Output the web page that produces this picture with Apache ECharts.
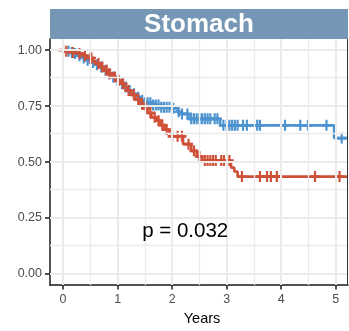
<!DOCTYPE html>
<html><head><meta charset="utf-8">
<script src="https://cdn.jsdelivr.net/npm/echarts@6/dist/echarts.min.js"></script>
<style>html,body{margin:0;padding:0;background:#fff}#c{width:349px;height:331px}</style>
</head><body><div id="c"></div>
<script>
const stripTitle = 'Stomach';
const xAxisTitle = 'Years';
const pValueText = 'p = 0.032';
const pValuePos = [2.24, 0.19];
const xTicks = [0, 1, 2, 3, 4, 5];
const yTicks = [0, 0.25, 0.5, 0.75, 1];
const xGridMajor = [0, 1, 2, 3, 4, 5];
const xGridMinor = [0.5, 1.5, 2.5, 3.5, 4.5];
const yGridMajor = [0, 0.25, 0.5, 0.75, 1];
const yGridMinor = [0.125, 0.375, 0.625, 0.875];
const xRange = [-0.24, 5.225];
const yRange = [-0.05, 1.05];

// Blue group: event times and survival after each event
const blueTimes = [0, 0.05, 0.12, 0.2, 0.28, 0.35, 0.42, 0.5, 0.58, 0.65, 0.72, 0.8, 0.88, 0.95, 1.02, 1.1, 1.17, 1.25, 1.32, 1.4, 1.5, 1.62, 1.8, 2.0, 2.1, 2.15, 2.3, 2.88, 4.97];
const blueSurv  = [1, 0.995, 0.99, 0.985, 0.975, 0.965, 0.955, 0.945, 0.935, 0.925, 0.91, 0.895, 0.88, 0.865, 0.85, 0.835, 0.82, 0.805, 0.79, 0.775, 0.765, 0.755, 0.745, 0.74, 0.725, 0.715, 0.693, 0.664, 0.607];
const blueCensor = [0.1, 0.16, 0.22, 0.3, 0.38, 0.45, 0.55, 0.62, 0.7, 0.78, 0.85, 0.92, 1.0, 1.08, 1.15, 1.22, 1.3, 1.38, 1.45, 1.5, 1.55, 1.6, 1.65, 1.7, 1.75, 1.8, 1.85, 1.9, 1.95, 2.02, 2.12, 2.18, 2.28, 2.35, 2.4, 2.45, 2.5, 2.55, 2.6, 2.65, 2.7, 2.78, 2.83, 2.94, 3.0, 3.05, 3.1, 3.15, 3.2, 3.3, 3.37, 3.56, 3.61, 4.07, 4.35, 4.49, 4.83, 5.11];

// Red group
const redTimes = [0, 0.05, 0.15, 0.25, 0.35, 0.45, 0.55, 0.6, 0.68, 0.75, 0.82, 0.9, 0.98, 1.05, 1.12, 1.18, 1.25, 1.32, 1.4, 1.47, 1.55, 1.62, 1.7, 1.78, 1.86, 1.95, 2.0, 2.2, 2.35, 2.45, 2.55, 3.08, 3.14, 3.2];
const redSurv  = [1, 0.995, 0.99, 0.985, 0.975, 0.965, 0.95, 0.94, 0.925, 0.91, 0.895, 0.88, 0.865, 0.85, 0.835, 0.82, 0.8, 0.78, 0.76, 0.74, 0.72, 0.7, 0.685, 0.665, 0.645, 0.63, 0.615, 0.58, 0.55, 0.525, 0.507, 0.475, 0.458, 0.435];
const redCensor = [0.0, 0.06, 0.18, 0.3, 0.4, 0.5, 0.52, 0.65, 0.72, 0.8, 0.85, 0.95, 1.02, 1.1, 1.2, 1.3, 1.38, 1.45, 1.52, 1.6, 1.68, 1.75, 1.82, 1.9, 2.0, 2.1, 2.18, 2.3, 2.4, 2.5, 2.6, 2.65, 2.7, 2.75, 2.8, 2.9, 2.95, 3.05, 3.28, 3.61, 3.74, 3.81, 3.92, 4.62, 5.07];

const blueColor = '#4C93D0';
const redColor = '#D04F37';
const FONT = '"Liberation Sans", Arial, Helvetica, sans-serif';

function survAt(times, surv, t) {
  let s = surv[0];
  for (let i = 0; i < times.length; i++) { if (times[i] <= t) s = surv[i]; }
  return s;
}
function stepData(times, surv) {
  const d = times.map((t, i) => [t, surv[i]]);
  d.push([xRange[1], surv[surv.length - 1]]);
  return d;
}
function censorData(times, surv, cens) {
  return cens.map(t => [t, survAt(times, surv, t)]);
}
const plusPath = 'path://M5,0L5,10M0,5L10,5';

const chart = echarts.init(document.getElementById('c'), null, {renderer: 'canvas'});
const gridLine = (w) => ({color: '#EBEBEB', width: w, type: 'solid'});
const option = {
  animation: false,
  backgroundColor: '#fff',
  grid: {left: 50, right: 1, top: 39, bottom: 38, containLabel: false},
  xAxis: {
    type: 'value', min: xRange[0], max: xRange[1],
    axisLine: {show: true, onZero: false, lineStyle: {color: '#1a1a1a', width: 1.5}},
    axisTick: {show: true, customValues: xTicks, length: 4.5, lineStyle: {color: '#1a1a1a', width: 1.5}},
    axisLabel: {show: true, customValues: xTicks, margin: 8, color: '#4D4D4D', fontSize: 12.5, fontFamily: FONT, formatter: v => String(v)},
    splitLine: {show: false},
    name: xAxisTitle, nameLocation: 'middle', nameGap: 25,
    nameTextStyle: {color: '#000', fontSize: 14.5, fontFamily: FONT, padding: [0, 0, 0, 6]}
  },
  yAxis: {
    type: 'value', min: yRange[0], max: yRange[1],
    axisLine: {show: true, onZero: false, lineStyle: {color: '#1a1a1a', width: 1.5}},
    axisTick: {show: true, customValues: yTicks, length: 5, lineStyle: {color: '#1a1a1a', width: 1.5}},
    axisLabel: {show: true, customValues: yTicks, margin: 8, color: '#4D4D4D', fontSize: 12.5, fontFamily: FONT, formatter: v => v.toFixed(2)},
    splitLine: {show: false}
  },
  series: [
    {
      type: 'line', data: [], silent: true, z: 1,
      markLine: {
        silent: true, symbol: ['none', 'none'], label: {show: false}, animation: false,
        data: [
          ...xGridMinor.map(v => ({xAxis: v, lineStyle: gridLine(1.3)})),
          ...yGridMinor.map(v => ({yAxis: v, lineStyle: gridLine(1.3)})),
          ...xGridMajor.map(v => ({xAxis: v, lineStyle: gridLine(2)})),
          ...yGridMajor.map(v => ({yAxis: v, lineStyle: gridLine(2)}))
        ]
      }
    },
    {
      type: 'line', step: 'end', data: stepData(blueTimes, blueSurv), showSymbol: false, z: 3,
      lineStyle: {color: blueColor, width: 2.6}, itemStyle: {color: blueColor}
    },
    {
      type: 'scatter', data: censorData(blueTimes, blueSurv, blueCensor), symbol: plusPath, symbolSize: [9, 11], z: 3,
      itemStyle: {color: blueColor, borderColor: blueColor, borderWidth: 2.4, opacity: 1}
    },
    {
      type: 'line', step: 'end', data: stepData(redTimes, redSurv), showSymbol: false, z: 4,
      lineStyle: {color: redColor, width: 2.6}, itemStyle: {color: redColor}
    },
    {
      type: 'scatter', data: censorData(redTimes, redSurv, redCensor), symbol: plusPath, symbolSize: [9, 11], z: 4,
      itemStyle: {color: redColor, borderColor: redColor, borderWidth: 2.4, opacity: 1}
    }
  ]
};
chart.setOption(option);

const pp = chart.convertToPixel({gridIndex: 0}, pValuePos);
const tl = chart.convertToPixel({gridIndex: 0}, [xRange[0], yRange[1]]);
const br = chart.convertToPixel({gridIndex: 0}, [xRange[1], yRange[0]]);
chart.setOption({
  graphic: [
    {type: 'rect', shape: {x: tl[0], y: 9, width: br[0] - tl[0], height: tl[1] - 9}, style: {fill: '#7597B5'}, z: 10},
    {type: 'text', x: (tl[0] + br[0]) / 2, y: (9 + tl[1]) / 2 + 1, style: {text: stripTitle, fill: '#fff', font: 'bold 26px ' + FONT, align: 'center', verticalAlign: 'middle'}, z: 11},
    {type: 'line', shape: {x1: br[0] - 0.5, y1: tl[1], x2: br[0] - 0.5, y2: br[1]}, style: {stroke: '#333', lineWidth: 1}, z: 10},
    {type: 'text', x: pp[0], y: pp[1], style: {text: pValueText, fill: '#000', font: '20.5px ' + FONT, align: 'center', verticalAlign: 'middle'}, z: 11}
  ]
});
</script></body></html>
